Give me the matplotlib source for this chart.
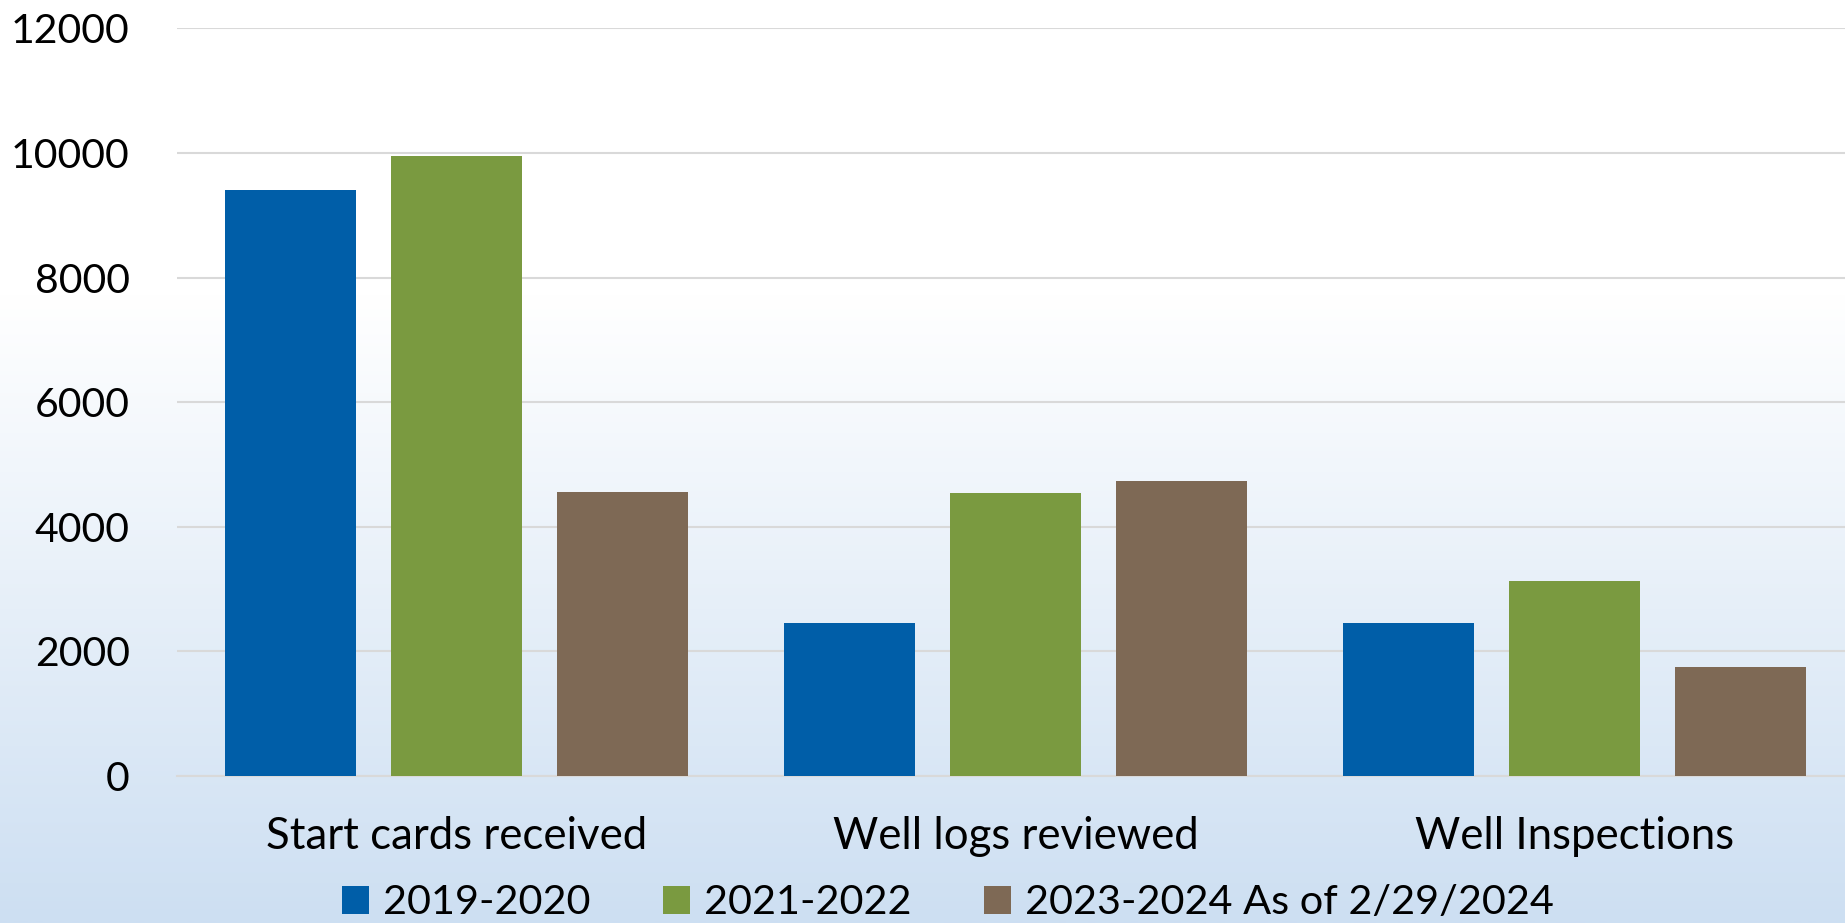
import numpy as np
import matplotlib
matplotlib.use('Agg')
import matplotlib.pyplot as plt
from matplotlib.colors import LinearSegmentedColormap

categories = ['Start cards received', 'Well logs reviewed', 'Well Inspections']
series_names = ['2019-2020', '2021-2022', '2023-2024 As of 2/29/2024']
vals_2019 = [9400, 2455, 2455]
vals_2021 = [9955, 4545, 3130]
vals_2023 = [4560, 4730, 1755]
colors = ['#005ea8', '#7a9a40', '#7e6955']
y_ticks = [0, 2000, 4000, 6000, 8000, 10000, 12000]

plt.rcParams['font.family'] = ['Lato', 'DejaVu Sans']

fig = plt.figure(figsize=(18.45, 9.23), dpi=100)

# background gradient (white on top, light blue at the bottom)
bg = fig.add_axes([0, 0, 1, 1], zorder=-10)
grad_cmap = LinearSegmentedColormap.from_list(
    'bg', [(0.0, '#cddff2'), (0.68, '#ffffff'), (1.0, '#ffffff')])
grad = np.linspace(0, 1, 512).reshape(-1, 1)
bg.imshow(grad, aspect='auto', cmap=grad_cmap, origin='lower', extent=[0, 1, 0, 1])
bg.axis('off')

W, H = 1845, 923
ax = fig.add_axes([177 / W, 1 - 776 / H, 1677 / W, (776 - 28.5) / H])
ax.patch.set_alpha(0)

x = np.arange(len(categories))
width = 0.236
step = 0.297
for k, (vals, name) in enumerate(zip([vals_2019, vals_2021, vals_2023], series_names)):
    ax.bar(x + (k - 1) * step, vals, width, color=colors[k], label=name, zorder=3)

ax.set_xlim(-0.5, 2.5)
ax.set_ylim(0, 12000)
ax.set_yticks(y_ticks)
ax.set_yticklabels([str(t) for t in y_ticks])
ax.set_xticks(x)
ax.set_xticklabels(categories)
ax.grid(axis='y', color='#d9d9d9', linewidth=1.5, zorder=0)
ax.tick_params(axis='y', length=0, pad=34, labelsize=29.5)
ax.tick_params(axis='x', length=0, pad=29, labelsize=31.5)
for s in ['top', 'right', 'left']:
    ax.spines[s].set_visible(False)
ax.spines['bottom'].set_color('#d9d9d9')
ax.spines['bottom'].set_linewidth(1.5)

handles, labels = ax.get_legend_handles_labels()
fig.legend(handles, labels, loc='center', bbox_to_anchor=(948 / W, 1 - 903 / H),
           ncol=3, frameon=False, fontsize=29.8, handlelength=0.65, handleheight=0.65,
           handletextpad=0.34, columnspacing=1.75, borderpad=0)

fig.savefig('out.png', dpi=100)
